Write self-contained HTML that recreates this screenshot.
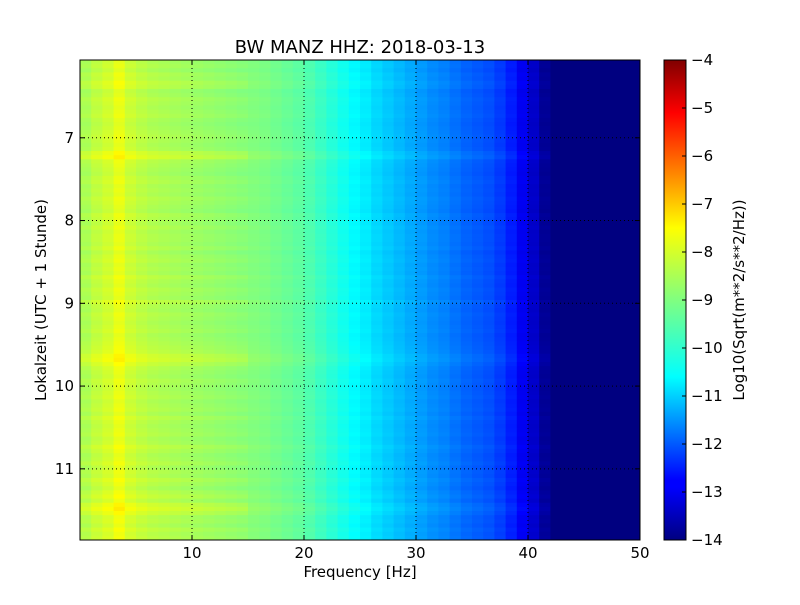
<!DOCTYPE html>
<html><head><meta charset="utf-8">
<style>
body{margin:0;background:#fff;}
svg text{font-family:"DejaVu Sans","Liberation Sans",sans-serif;}
</style></head>
<body>
<svg id="chart" width="800" height="600" viewBox="0 0 800 600" xmlns="http://www.w3.org/2000/svg">
<rect width="800" height="600" fill="#fff"/>
<text x="360" y="53" font-size="18" text-anchor="middle">BW MANZ HHZ: 2018-03-13</text>
<g id="cells"></g>
<g id="grid"></g>
<rect x="80" y="60" width="560" height="480" fill="none" stroke="#000" stroke-width="1"/>
<g id="xticks"></g>
<g id="yticks"></g>
<text x="360" y="577" font-size="15" text-anchor="middle">Frequency [Hz]</text>
<text transform="translate(46,300) rotate(-90)" font-size="15" text-anchor="middle">Lokalzeit (UTC + 1 Stunde)</text>
<defs><linearGradient id="jet" x1="0" y1="1" x2="0" y2="0">
<stop offset="0" stop-color="#000080"/><stop offset="0.11" stop-color="#0000ff"/><stop offset="0.125" stop-color="#0000ff"/>
<stop offset="0.34" stop-color="#00ffff"/><stop offset="0.5" stop-color="#80ff80"/><stop offset="0.65" stop-color="#ffff00"/>
<stop offset="0.89" stop-color="#ff0000"/><stop offset="1" stop-color="#800000"/></linearGradient></defs>
<rect x="664" y="60" width="22" height="480" fill="url(#jet)" stroke="#000"/>
<g id="cticks"></g>
<text transform="translate(744,300) rotate(-90)" font-size="15" text-anchor="middle">Log10(Sqrt(m**2/s**2/Hz))</text>
</svg>
<script>
const freqBins=[0,1,2,3,4,5,6,7,8,9,10,11,12,13,14,15,16,17,18,19,20,21,22,23,24,25,26,27,28,29,30,31,32,33,34,35,36,37,38,39,40,41,42,43,44,45,46,47,48,49];
const freqProfile=[-8.6,-8.4,-8.25,-8.0,-8.3,-8.45,-8.55,-8.6,-8.65,-8.7,-8.75,-8.8,-8.85,-8.9,-8.95,-9.0,-9.05,-9.15,-9.25,-9.35,-9.5,-9.7,-9.9,-10.1,-10.3,-10.45,-10.65,-10.8,-10.95,-11.1,-11.25,-11.4,-11.5,-11.65,-11.8,-11.9,-12.0,-12.2,-12.5,-12.9,-13.3,-13.8,-14,-14,-14,-14,-14,-14,-14,-14];
const timeStart=6.06, timeStep=0.05;
const rowOffsets=[0,0.05,-0.05,0.1,0.05,0.2,0.15,-0.05,0,0.1,0.05,0,0.05,0.1,0,-0.05,0,0.05,0.1,0.05,0,0.05,0.3,0.4,0.1,0.05,0,-0.05,0.05,0.1,0,0.05,0,0.1,0.05,0,-0.05,0.1,0.05,0,0.1,0,0.05,0.05,0,0.1,-0.05,0.05,0.1,0,0.05,0,0.15,0.05,0,0.1,0.05,0,0.2,0.05,0,0.1,0.05,0,0.05,0.1,0,0.05,0.1,0.15,0.2,0.35,0.4,0.25,0.1,0.05,0,0.1,0.05,0,0.05,0.1,0,0.05,0.1,0,0.15,0.05,0,0.05,0.1,0,0.05,0.2,0.1,0,0.05,0.15,0,0.1,0.05,0.2,0.1,0,0.15,0.25,0.1,0.35,0.45,0.3,0.1,0.15,0.05,0.2,0.1,0.15,0.1];
const xTicks=[10,20,30,40,50];
const yTicks=[7,8,9,10,11];
const cTicks=[-14,-13,-12,-11,-10,-9,-8,-7,-6,-5,-4];
const X0=80,X1=640,Y0=60,Y1=540,tEnd=11.86;
const xs=f=>X0+(f/50)*(X1-X0);
const ys=t=>Y0+(t-timeStart)/(tEnd-timeStart)*(Y1-Y0);
const cs=v=>Y1-(v+14)/10*(Y1-Y0);
function jet(v){const x=Math.max(0,Math.min(1,(v+14)/10));
 const c=t=>Math.round(255*Math.max(0,Math.min(1,t)));
 return `rgb(${c(1.5-Math.abs(4*x-3))},${c(1.5-Math.abs(4*x-2))},${c(1.5-Math.abs(4*x-1))})`;}
const NS='http://www.w3.org/2000/svg';
const cells=document.getElementById('cells');
rowOffsets.forEach((off,r)=>{
 const t0=timeStart+r*timeStep;
 if(t0>=tEnd) return;
 freqBins.forEach((f,i)=>{
  let v=freqProfile[i];
  if(v>-13.9) v+=off*(f<15?1:0.5);
  const el=document.createElementNS(NS,'rect');
  
  
  const ya=ys(t0),yb=Math.min(Y1,ys(t0+timeStep));
  el.setAttribute('x',xs(f));el.setAttribute('y',ya);
  el.setAttribute('width',xs(f+1)-xs(f)+0.5);el.setAttribute('height',Math.max(0,yb-ya+0.5));
  el.setAttribute('fill',jet(v));
  cells.appendChild(el);
 });
});
const grid=document.getElementById('grid'),xt=document.getElementById('xticks'),yt=document.getElementById('yticks'),ct=document.getElementById('cticks');
function line(p,x1,y1,x2,y2,dash,name){const l=document.createElementNS(NS,'line');
 
 
 l.setAttribute('x1',x1);l.setAttribute('y1',y1);l.setAttribute('x2',x2);l.setAttribute('y2',y2);
 l.setAttribute('stroke','#000');if(dash)l.setAttribute('stroke-dasharray','1,3');p.appendChild(l);}
function text(p,x,y,s,anchor,name){const t=document.createElementNS(NS,'text');
 
 
 t.setAttribute('x',x);t.setAttribute('y',y);t.setAttribute('font-size','15');t.setAttribute('text-anchor',anchor);t.textContent=s;p.appendChild(t);}
xTicks.forEach(v=>{const x=xs(v);if(v<50)line(grid,x,Y0,x,Y1,true,'x-grid-line');
 line(xt,x,Y1,x,Y1-5,false,'x-tick');line(xt,x,Y0,x,Y0+5,false,'x-tick-top');text(xt,x,558,String(v),'middle','x-tick-label');});
yTicks.forEach(v=>{const y=ys(v);line(grid,X0,y,X1,y,true,'y-grid-line');
 line(yt,X0,y,X0+5,y,false,'y-tick');line(yt,X1,y,X1-5,y,false,'y-tick-right');text(yt,74,y+5,String(v),'end','y-tick-label');});
cTicks.forEach(v=>{const y=cs(v);line(ct,686,y,682,y,false,'colorbar-tick');text(ct,691,y+5,'\u2212'+Math.abs(v),'start','colorbar-tick-label');});
</script>
</body></html>
